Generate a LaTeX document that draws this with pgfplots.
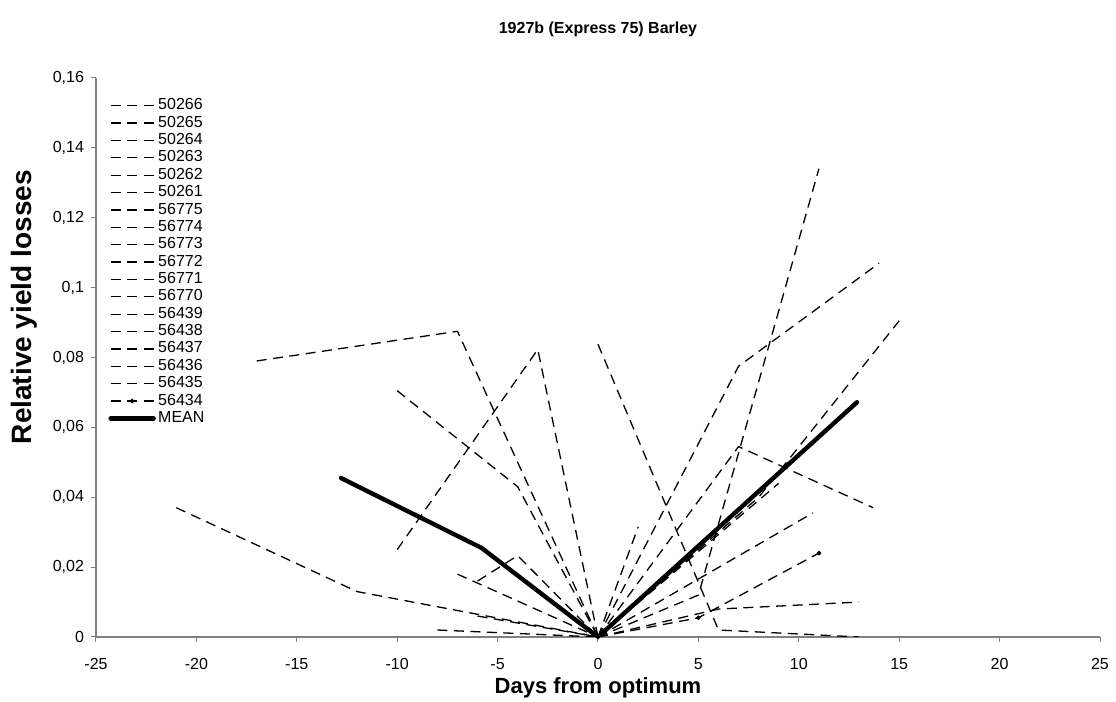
\documentclass[border=0pt]{standalone}
\usepackage{fontspec}
\setmainfont{Liberation Sans}
\usepackage{pgfplots}
\pgfplotsset{compat=1.18}
\tikzset{
  ser/.style={black, line width=0.65pt, dash pattern=on 5pt off 3.25pt, mark=none},
  meanline/.style={black, line width=2.2pt, line cap=round, line join=round, mark=none},
}
\begin{document}
\begin{tikzpicture}
\path[use as bounding box] (-48pt,-32.5pt) rectangle (510pt,318.5pt);
\begin{axis}[
  scale only axis, width=502pt, height=279.5pt,
  at={(0,0)}, anchor=south west,
  xmin=-25, xmax=25, ymin=0, ymax=0.16,
  axis x line*=bottom, axis y line*=left,
  axis line style={draw=gray, line width=0.6pt, -},
  xtick={-25,-20,-15,-10,-5,0,5,10,15,20,25},
  ytick={0,0.02,0.04,0.06,0.08,0.1,0.12,0.14,0.16},
  tick align=outside, major tick length=2.5pt,
  tick style={draw=gray, line width=0.5pt},
  /pgf/number format/assume math mode=true,
  yticklabel style={/pgf/number format/.cd, use comma, fixed, precision=2},
  xticklabel style={yshift=-4.5pt},
  ticklabel style={font=\fontsize{8}{9}\selectfont},
  title={1927b (Express 75) Barley},
  title style={font=\fontsize{8}{9}\selectfont\bfseries, at={(0.5,1.066)}, anchor=center},
  xlabel={Days from optimum},
  xlabel style={font=\fontsize{11}{12}\selectfont\bfseries, at={(0.5,-0.0912)}, anchor=center},
  ylabel={Relative yield losses},
  ylabel style={font=\fontsize{14}{15}\selectfont\bfseries, at={(-0.0717,0.59)}, anchor=center},
  legend style={draw=none, fill=none, at={(0.012,0.9656)}, anchor=north west,
    font=\fontsize{8}{8.7}\selectfont, inner sep=0pt, row sep=0.6pt,
    nodes={inner xsep=1.2pt, inner ysep=0.5pt}},
  legend cell align=left,
  legend image code/.code={\draw[mark repeat=2,mark phase=2,#1] plot coordinates {(0pt,0pt) (10.75pt,0pt) (21.5pt,0pt)};},
]
% 50266
\addplot[ser] coordinates {(-17,0.079) (-7,0.0875) (0,0)};
% 50265
\addplot[ser] coordinates {(-10,0.025) (-3,0.0823) (0,0)};
% 50264
\addplot[ser] coordinates {(-10,0.0705) (-4,0.043) (0,0)};
% 50263
\addplot[ser] coordinates {(-21,0.037) (-12,0.013) (0,0)};
% 50262
\addplot[ser] coordinates {(-8,0.002) (0,0)};
% 50261
\addplot[ser] coordinates {(-7,0.018) (0,0)};
% 56775
\addplot[ser] coordinates {(-6,0.016) (-4,0.0233) (0,0)};
% 56774
\addplot[ser] coordinates {(-6,0.006) (0,0)};
% 56773
\addplot[ser] coordinates {(0,0.0838) (6,0.002) (13,0)};
% 56772
\addplot[ser] coordinates {(0,0) (5,0.012) (11,0.134)};
% 56771
\addplot[ser] coordinates {(0,0) (7,0.0775) (14,0.107)};
% 56770
\addplot[ser] coordinates {(0,0) (8,0.040) (15,0.0905)};
% 56439
\addplot[ser] coordinates {(0,0) (7,0.0545) (13.7,0.037)};
% 56438
\addplot[ser] coordinates {(0,0) (10.7,0.0355)};
% 56437
\addplot[ser] coordinates {(0,0) (6,0.008) (13,0.010)};
% 56436
\addplot[ser] coordinates {(0,0) (2,0.0315)};
% 56435
\addplot[ser] coordinates {(0,0) (9,0.044)};
% 56434
\addplot[ser, mark=*, mark size=0.8pt, mark options={solid}] coordinates {(0,0) (5,0.0055) (11,0.024)};
% MEAN
\addplot[meanline] coordinates {(-12.8,0.0455) (-5.8,0.0255) (0,0) (12.9,0.0672)};
\legend{50266,50265,50264,50263,50262,50261,56775,56774,56773,56772,56771,56770,56439,56438,56437,56436,56435,56434,MEAN}
\end{axis}
\end{tikzpicture}
\end{document}
